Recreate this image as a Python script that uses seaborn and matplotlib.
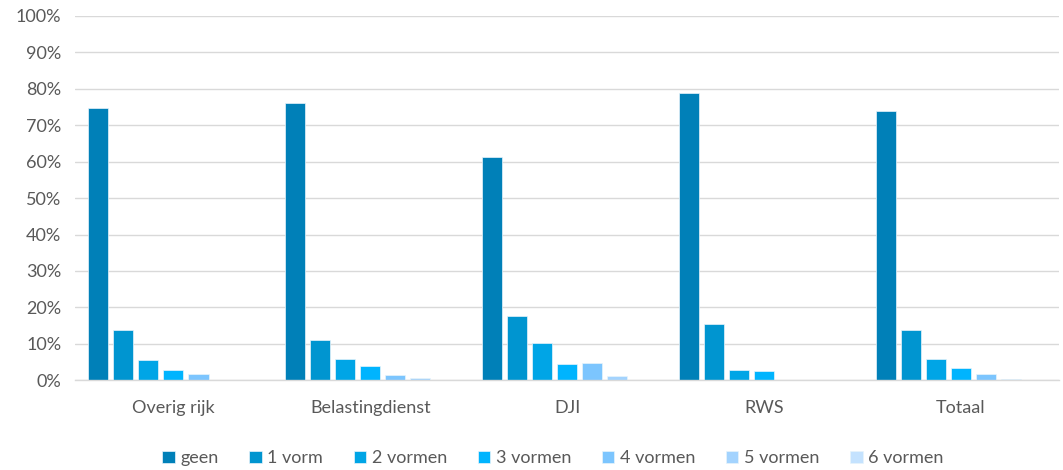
import pandas as pd
import matplotlib.pyplot as plt
import seaborn as sns
from matplotlib.ticker import PercentFormatter

# categories and series (percentages)
groups = ['Overig rijk', 'Belastingdienst', 'DJI', 'RWS', 'Totaal']
series = ['geen', '1 vorm', '2 vormen', '3 vormen', '4 vormen', '5 vormen', '6 vormen']

geen = [74.8, 76.1, 61.3, 78.9, 74.0]
vorm_1 = [13.9, 11.0, 17.6, 15.3, 13.7]
vorm_2 = [5.5, 5.8, 10.3, 2.8, 5.8]
vorm_3 = [2.8, 3.8, 4.4, 2.6, 3.3]
vorm_4 = [1.7, 1.4, 4.7, 0.0, 1.8]
vorm_5 = [0.2, 0.6, 1.1, 0.0, 0.3]
vorm_6 = [0.0, 0.0, 0.0, 0.0, 0.0]

colors = ['#0080b8', '#0095d0', '#00a5e6', '#00b4fe', '#7cc5fe', '#a3d3fe', '#c4e2fe']

# long format for seaborn
values = [geen, vorm_1, vorm_2, vorm_3, vorm_4, vorm_5, vorm_6]
rows = []
for s, vals in zip(series, values):
    for g, v in zip(groups, vals):
        rows.append({'groep': g, 'vorm': s, 'pct': v})
df = pd.DataFrame(rows)

sns.set_style('white')
plt.rcParams['font.family'] = ['Lato', 'DejaVu Sans']

fig = plt.figure(figsize=(10.63, 4.70), dpi=100)
ax = fig.add_axes([0.0706, 0.191, 0.926, 0.775])

sns.barplot(data=df, x='groep', y='pct', hue='vorm', order=groups, hue_order=series,
            palette=colors, saturation=1, width=0.89, gap=0.2, edgecolor='#e8f4fb',
            linewidth=0.5, ax=ax, legend=True)

ax.set_ylim(0, 100)
ax.set_xlim(-0.5, 4.5)
ax.set_yticks(range(0, 101, 10))
ax.yaxis.set_major_formatter(PercentFormatter(decimals=0))
ax.grid(axis='y', color='#d9d9d9', linewidth=1)
ax.set_axisbelow(True)
for side in ['top', 'right', 'left']:
    ax.spines[side].set_visible(False)
ax.spines['bottom'].set_color('#d9d9d9')
ax.spines['bottom'].set_linewidth(1)
ax.set_xlabel('')
ax.set_ylabel('')
ax.tick_params(axis='both', length=0, labelsize=13, labelcolor='#595959')
ax.tick_params(axis='x', pad=14)
ax.tick_params(axis='y', pad=10)

handles, labels = ax.get_legend_handles_labels()
ax.get_legend().remove()
fig.legend(handles, labels, loc='center', bbox_to_anchor=(0.52, 0.025), ncol=7,
           frameon=False, fontsize=13, labelcolor='#595959', handlelength=0.7,
           handleheight=0.7, handletextpad=0.3, columnspacing=1.7)

plt.savefig('out.png', dpi=100)
plt.close()
